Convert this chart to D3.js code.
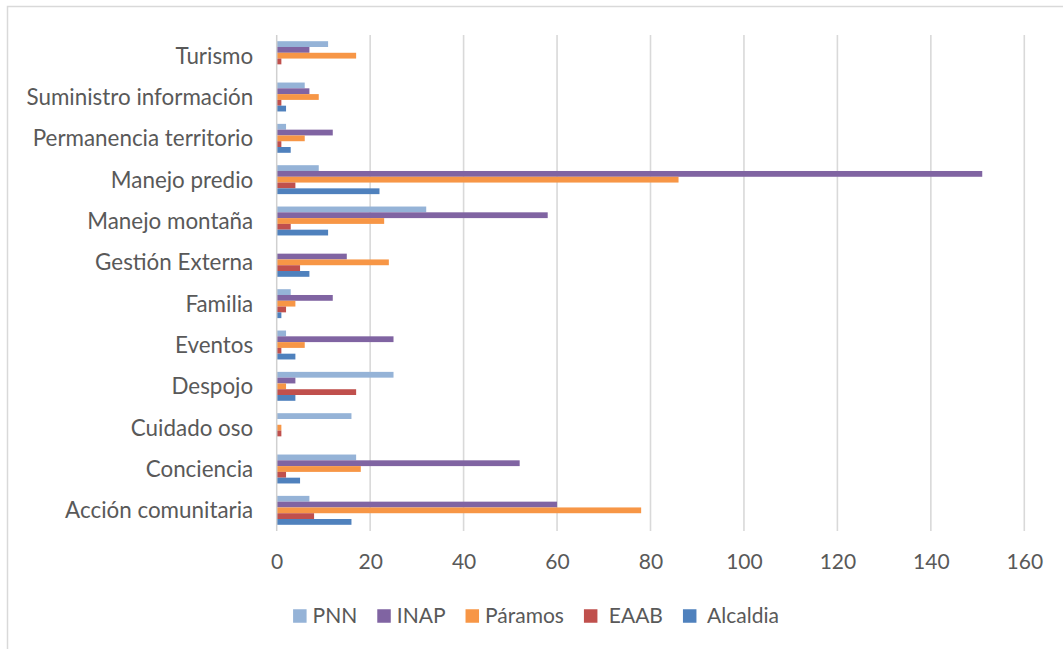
<!DOCTYPE html>
<html>
<head>
<meta charset="utf-8">
<script src="https://cdn.jsdelivr.net/npm/d3@7"></script>
<style>
  html, body { margin: 0; padding: 0; background: #fff; }
  svg text { font-family: Lato, "Open Sans", sans-serif; fill: #595959; }
</style>
</head>
<body>
<svg id="chart" width="1063" height="649"></svg>
<script>
// ---- data (top-to-bottom display order) ----
const categories = ["Turismo", "Suministro información", "Permanencia territorio", "Manejo predio",
  "Manejo montaña", "Gestión Externa", "Familia", "Eventos", "Despojo", "Cuidado oso",
  "Conciencia", "Acción comunitaria"];
const seriesNames = ["PNN", "INAP", "Páramos", " EAAB", " Alcaldia"];
const pnn      = [11, 6, 2, 9, 32, 0, 3, 2, 25, 16, 17, 7];
const inap     = [7, 7, 12, 151, 58, 15, 12, 25, 4, 0, 52, 60];
const paramos  = [17, 9, 6, 86, 23, 24, 4, 6, 2, 1, 18, 78];
const eaab     = [1, 1, 1, 4, 3, 5, 2, 1, 17, 1, 2, 8];
const alcaldia = [0, 2, 3, 22, 11, 7, 1, 4, 4, 0, 5, 16];
const xTicks   = [0, 20, 40, 60, 80, 100, 120, 140, 160];
const seriesColors = ["#95b3d7", "#8064a2", "#f79646", "#c0504d", "#4f81bd"];

const seriesValues = [pnn, inap, paramos, eaab, alcaldia];
const CAT_FONT = 22.4;
const FONT = 21;

const svg = d3.select("#chart");

// chart frame
svg.append("rect").attr("x", 7.5).attr("y", 6.5).attr("width", 1060).attr("height", 660)
  .attr("fill", "#fff").attr("stroke", "#d9d9d9").attr("stroke-width", 1.5);

const plot = { left: 276.7, right: 1024.3, top: 35, bottom: 531 };

const x = d3.scaleLinear().domain([0, 160]).range([plot.left, plot.right]);
const y = d3.scaleBand().domain(categories).range([plot.top, plot.bottom])
  .paddingInner(0.3).paddingOuter(0.15);
const ySub = d3.scaleBand().domain(d3.range(seriesNames.length)).range([0, y.bandwidth()]);

// gridlines
svg.append("g").selectAll("line").data(xTicks.filter(d => d > 0)).join("line")
  .attr("x1", d => x(d)).attr("x2", d => x(d))
  .attr("y1", plot.top).attr("y2", plot.bottom)
  .attr("stroke", "#d9d9d9").attr("stroke-width", 1.6);

// bars
const rows = categories.map((c, i) => ({ cat: c, vals: seriesValues.map(s => s[i]) }));
const groups = svg.append("g").selectAll("g").data(rows).join("g")
  .attr("transform", d => `translate(0,${y(d.cat)})`);
groups.selectAll("rect").data(d => d.vals.map((v, k) => ({ v, k }))).join("rect")
  .attr("x", x(0))
  .attr("y", d => ySub(d.k))
  .attr("width", d => x(d.v) - x(0))
  .attr("height", ySub.bandwidth())
  .attr("fill", d => seriesColors[d.k]);

// vertical axis line at 0
svg.append("line").attr("x1", x(0)).attr("x2", x(0))
  .attr("y1", plot.top).attr("y2", plot.bottom)
  .attr("stroke", "#d0d0d0").attr("stroke-width", 1.5);

// category labels
const yAxis = d3.axisLeft(y).tickSize(0).tickPadding(0);
const yg = svg.append("g").attr("transform", `translate(${plot.left - 23.5},0)`).call(yAxis);
yg.select(".domain").remove();
yg.selectAll("text").style("font-size", CAT_FONT + "px").style("fill", "#595959")
  .style("font-family", "Lato, 'Open Sans', sans-serif").attr("dy", "0.35em");

// x tick labels
const xAxis = d3.axisBottom(x).tickValues(xTicks).tickSize(0).tickPadding(0);
const xg = svg.append("g").attr("transform", `translate(0,${plot.bottom + 23})`).call(xAxis);
xg.select(".domain").remove();
xg.selectAll("text").style("font-size", FONT + "px").style("fill", "#595959")
  .style("font-family", "Lato, 'Open Sans', sans-serif").attr("dy", "0.71em");

// legend
const legend = svg.append("g");
const items = legend.selectAll("g").data(seriesNames).join("g");
items.append("rect").attr("width", 13.5).attr("height", 13.5).attr("y", -6.75)
  .attr("fill", (d, i) => seriesColors[i]);
items.append("text").attr("x", 19.5).attr("dy", "0.35em")
  .style("font-size", FONT + "px").style("white-space", "pre").text(d => d);
let cursor = 0;
const widths = [];
items.each(function () {
  const w = 19.5 + this.querySelector("text").getComputedTextLength();
  widths.push(w);
});
const gap = 20;
const total = d3.sum(widths) + gap * (widths.length - 1);
const startX = 536 - total / 2;
items.attr("transform", (d, i) => {
  const pos = startX + cursor;
  cursor += widths[i] + gap;
  return `translate(${pos},616)`;
});
</script>
</body>
</html>
